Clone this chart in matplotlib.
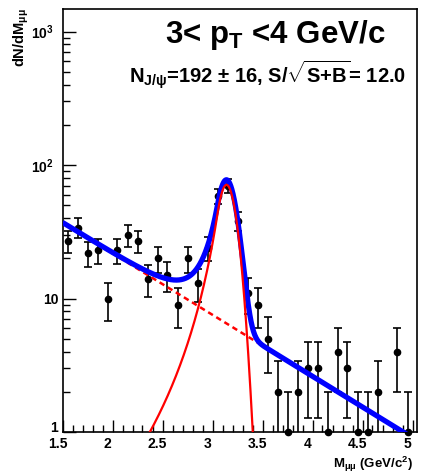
import numpy as np
import matplotlib
matplotlib.use("Agg")
import matplotlib.pyplot as plt
import matplotlib.transforms as mtransforms
from matplotlib.ticker import FixedLocator, NullFormatter

plt.rcParams['font.family'] = ['Liberation Sans', 'DejaVu Sans']
plt.rcParams['font.weight'] = 'bold'
plt.rcParams['mathtext.fontset'] = 'custom'
plt.rcParams['mathtext.rm'] = 'Liberation Sans:bold'
plt.rcParams['mathtext.it'] = 'Liberation Sans:bold'
plt.rcParams['mathtext.bf'] = 'Liberation Sans:bold'
plt.rcParams['mathtext.sf'] = 'Liberation Sans:bold'

# Dimuon invariant-mass histogram (bin centres, counts per 0.1 GeV/c^2 bin)
mass_centers = [1.55, 1.65, 1.75, 1.85, 1.95, 2.05, 2.15, 2.25, 2.35, 2.45,
                2.55, 2.65, 2.75, 2.85, 2.95, 3.05, 3.15, 3.25, 3.35, 3.45,
                3.55, 3.65, 3.75, 3.85, 3.95, 4.05, 4.15, 4.25, 4.35, 4.45,
                4.55, 4.65, 4.75, 4.85, 4.95]
counts = [27, 34, 22, 23, 10, 23, 30, 27, 14, 20,
          15, 9, 20, 13, 24, 59, 70, 38, 11, 9,
          5, 2, 1, 2, 3, 3, 1, 4, 3, 1,
          1, 2, 0, 4, 1]

# Fit parameters: exponential background + Crystal Ball J/psi signal
bkg_norm = 37.0
bkg_slope = 1.06
sig_norm = 71.0
sig_mean = 3.14
sig_sigma = 0.09
cb_alpha = 1.0
cb_n = 3.0

x_ticks = [1.5, 2, 2.5, 3, 3.5, 4, 4.5, 5]
x_tick_labels = ["1.5", "2", "2.5", "3", "3.5", "4", "4.5", "5"]
y_ticks = [1, 10, 100, 1000]
y_tick_labels = ["1", "10", r"10$^{2}$", r"10$^{3}$"]

title = r"3< p$_{\mathrm{T}}$ <4 GeV/c"
subtitle = r"N$_{\mathrm{J/\psi}}$=192 $\pm$ 16, S/$\sqrt{\mathrm{S{+}B}}$= 12.0"


def background(m):
    return bkg_norm * np.exp(-bkg_slope * (m - 1.5))


def crystal_ball(m):
    t = (m - sig_mean) / sig_sigma
    a = abs(cb_alpha)
    A = (cb_n / a) ** cb_n * np.exp(-a * a / 2)
    B = cb_n / a - a
    out = np.empty_like(t)
    core = t > -a
    out[core] = np.exp(-t[core] ** 2 / 2)
    out[~core] = A * (B - t[~core]) ** (-cb_n)
    return sig_norm * out


W, H = 426, 475
fig = plt.figure(figsize=(W / 100, H / 100), dpi=100)
ax = fig.add_axes([62.5 / W, 1 - 432 / H, (416.5 - 62.5) / W, (432 - 9) / H])
ax.set_yscale('log')
ax.set_xlim(1.5, 5.04)
ax.set_ylim(1, 1475)

mc = np.array(mass_centers)
ct = np.array(counts, dtype=float)
keep = ct > 0
ax.errorbar(mc[keep], ct[keep], yerr=np.sqrt(ct[keep]), fmt='none', ecolor='black',
            capsize=3.0, elinewidth=1.2, capthick=1.2, zorder=2)
ax.plot(mc[keep], ct[keep], 'o', color='black', ms=4.5, zorder=2.5, clip_on=False)

m = np.linspace(1.5, 5.0, 1401)
bkg = background(m)
sig = crystal_ball(m)
ax.plot(m, bkg, color='red', lw=1.8, ls=(0, (2.2, 1.6)), zorder=3)
ax.plot(m, bkg + sig, color='blue', lw=3.8, zorder=4, solid_capstyle='butt')
ax.plot(m, sig, color='red', lw=1.6, zorder=5)

# axes styling
for s in ax.spines.values():
    s.set_linewidth(1.2)
ax.xaxis.set_major_locator(FixedLocator(x_ticks))
ax.xaxis.set_minor_locator(FixedLocator(np.round(np.arange(1.5, 5.01, 0.1), 2)))
ax.set_xticklabels(x_tick_labels)
ax.yaxis.set_major_locator(FixedLocator(y_ticks))
ax.yaxis.set_minor_locator(FixedLocator([k * 10 ** d for d in range(0, 3) for k in range(2, 10)]))
ax.yaxis.set_minor_formatter(NullFormatter())
ax.set_yticklabels(y_tick_labels)
ax.tick_params(which='major', direction='in', length=9, width=1.0, labelsize=10,
               top=False, right=False)
ax.tick_params(axis='x', which='major', pad=3.5)
ax.tick_params(axis='y', which='major', pad=3)
ax.tick_params(which='minor', direction='in', length=5, width=1.0, top=False, right=False)

shift_x = mtransforms.ScaledTranslation(-5 / 100, 0, fig.dpi_scale_trans)
for lab in ax.get_xticklabels():
    lab.set_transform(lab.get_transform() + shift_x)
shift_big = mtransforms.ScaledTranslation(-5 / 100, 0, fig.dpi_scale_trans)
shift_one = mtransforms.ScaledTranslation(0, 5 / 100, fig.dpi_scale_trans)
for lab, val in zip(ax.get_yticklabels(), y_ticks):
    if val >= 100:
        lab.set_transform(lab.get_transform() + shift_big)
    elif val == 1:
        lab.set_transform(lab.get_transform() + shift_one)

fig.text(275 / W, 1 - 43 / H, title, fontsize=22.5, ha='center', va='baseline')
fig.text(267.5 / W, 1 - 83 / H, subtitle, fontsize=14.5, ha='center', va='baseline')
fig.text(21 / W, 1 - 8 / H, r"dN/dM$_{\mu\mu}$", fontsize=10.5, rotation=90,
         ha='center', va='top')
fig.text(413 / W, 1 / H, r"M$_{\mu\mu}$ (GeV/c$^{2}$)", fontsize=9.5,
         ha='right', va='bottom')

fig.savefig("out.png", dpi=100)
